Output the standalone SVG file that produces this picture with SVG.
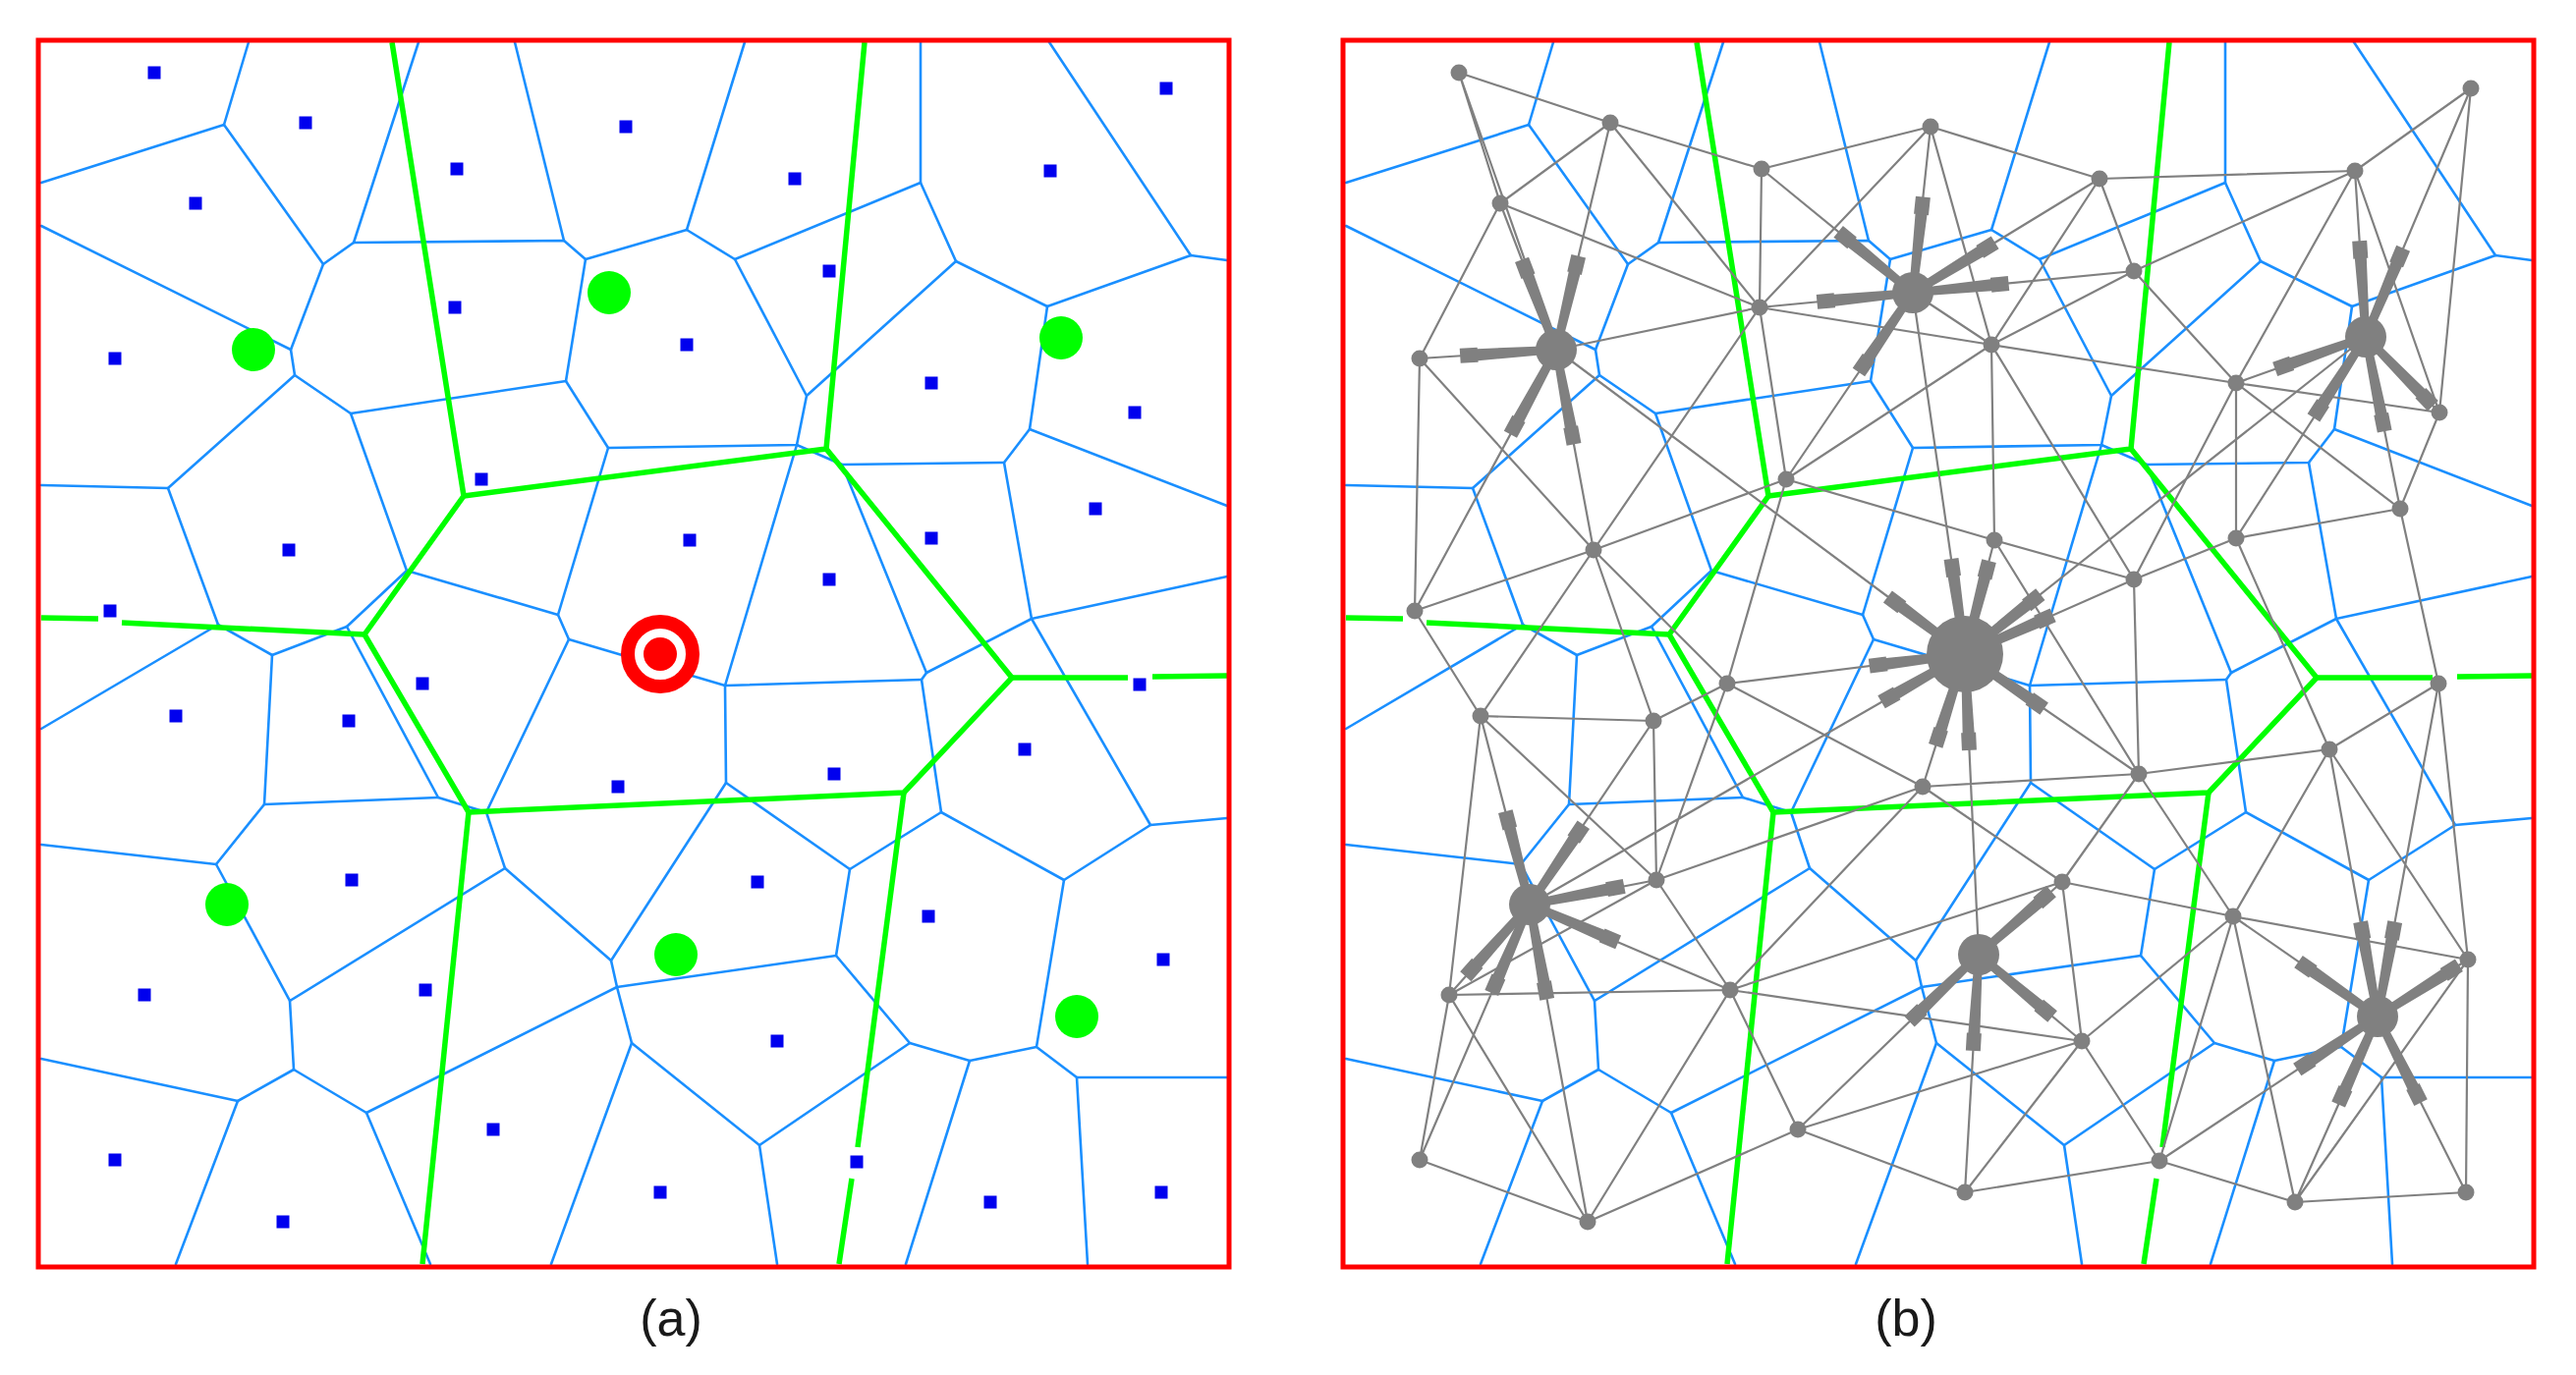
<svg xmlns="http://www.w3.org/2000/svg" width="2622" height="1400" viewBox="0 0 2622 1400">
<style>
.v{fill:none;stroke:#1a8fff;stroke-width:2.6;stroke-linejoin:round;stroke-linecap:round}
.g{fill:none;stroke:#00ff00;stroke-width:5.5;stroke-linejoin:round}
.e{fill:none;stroke:#808080;stroke-width:2.2}
.frame{fill:none;stroke:#ff0000;stroke-width:5}
.nd{fill:#808080}
.lbl{font-family:"Liberation Sans",Arial,sans-serif;font-size:52px;fill:#1a1a1a;text-anchor:middle}
</style>
<defs>
<rect id="sq" x="-6.5" y="-6.5" width="13" height="13" fill="#0000ee"/>
<path id="sp" d="M0,-4 L80,-6 L80,-7.5 L98,-7.5 L98,7.5 L80,7.5 L80,6 L0,4 Z" fill="#808080"/>
<g id="vor" class="v">
<path d="M253,43 L228,127 M426,43 L360,247 M524,43 L574,245 M758,43 L699,234 M937,43 L937,186 M1068,43 L1212,260 M42,230 L296,356 M42,494 L171,497 M42,742 L222,636 M42,860 L220,880 M42,1078 L242,1121 M242,1121 L179,1287 M373,1133 L438,1287 M643,1062 L561,1287 M773,1166 L791,1287 M987,1080 L922,1287 M1096,1097 L1107,1287 M1048,437 L1249,515 M1050,630 L1249,587 M1171,840 L1249,833 M1096,1097 L1249,1097"/>
<path d="M42,186 L228,127 L329,269 L360,247 L574,245 L596,264 L699,234 L748,264 L937,186 L973,266 L1066,312 L1212,260 L1249,265"/>
<path d="M329,269 L296,356 L300,382 L357,421 L576,388 L596,264"/>
<path d="M300,382 L171,497 L222,636 L277,667 L353,638 L414,581 L357,421"/>
<path d="M576,388 L619,456 L568,626 L414,581"/>
<path d="M619,456 L811,453 L821,403 L973,266 M821,403 L748,264"/>
<path d="M811,453 L857,473 L1022,471 L1048,437 L1066,312"/>
<path d="M1022,471 L1050,630 L943,685 L857,473"/>
<path d="M1050,630 L1171,840 L1083,896 L958,827 L938,692 L943,685"/>
<path d="M811,453 L738,698 L938,692"/>
<path d="M568,626 L579,651 L738,698"/>
<path d="M579,651 L495,827 L446,812 L353,638"/>
<path d="M277,667 L269,819 L446,812"/>
<path d="M269,819 L220,880 L295,1019 L514,884 L495,827"/>
<path d="M514,884 L622,978 L739,797 L738,698"/>
<path d="M739,797 L865,885 L958,827"/>
<path d="M865,885 L851,973 L926,1062 L987,1080 L1055,1066 L1096,1097 M1055,1066 L1083,896"/>
<path d="M295,1019 L299,1089 L242,1121"/>
<path d="M299,1089 L373,1133 L628,1005 L622,978"/>
<path d="M628,1005 L851,973"/>
<path d="M628,1005 L643,1062 L773,1166 L926,1062"/>
</g>
<g id="grn" class="g">
<path d="M399,43 L472,505 L841,457 L880,43"/>
<path d="M472,505 L371,646 L477,827 L920,807 L1030,690 L841,457"/>
<path d="M42,629 L100,630 M124,634 L371,646"/>
<path d="M477,827 L430,1287"/>
<path d="M1030,690 L1148,690 M1173,689 L1249,688"/>
<path d="M920,807 L873,1168 M867,1200 L854,1287"/>
</g>
</defs>
<rect x="0" y="0" width="2622" height="1400" fill="#ffffff"/>

<!-- Panel (a) -->
<g id="panel-a">
<use href="#vor"/>
<use href="#grn"/>
<g id="a-sites">
<use href="#sq" x="157" y="74"/><use href="#sq" x="311" y="125"/><use href="#sq" x="637" y="129"/><use href="#sq" x="465" y="172"/><use href="#sq" x="809" y="182"/><use href="#sq" x="1069" y="174"/><use href="#sq" x="1187" y="90"/><use href="#sq" x="199" y="207"/><use href="#sq" x="844" y="276"/><use href="#sq" x="463" y="313"/><use href="#sq" x="699" y="351"/><use href="#sq" x="117" y="365"/><use href="#sq" x="948" y="390"/><use href="#sq" x="1155" y="420"/><use href="#sq" x="490" y="488"/><use href="#sq" x="294" y="560"/><use href="#sq" x="702" y="550"/><use href="#sq" x="948" y="548"/><use href="#sq" x="1115" y="518"/><use href="#sq" x="844" y="590"/><use href="#sq" x="112" y="622"/><use href="#sq" x="430" y="696"/><use href="#sq" x="355" y="734"/><use href="#sq" x="179" y="729"/><use href="#sq" x="1160" y="697"/><use href="#sq" x="1043" y="763"/><use href="#sq" x="849" y="788"/><use href="#sq" x="629" y="801"/><use href="#sq" x="358" y="896"/><use href="#sq" x="771" y="898"/><use href="#sq" x="945" y="933"/><use href="#sq" x="1184" y="977"/><use href="#sq" x="433" y="1008"/><use href="#sq" x="147" y="1013"/><use href="#sq" x="791" y="1060"/><use href="#sq" x="502" y="1150"/><use href="#sq" x="872" y="1183"/><use href="#sq" x="117" y="1181"/><use href="#sq" x="288" y="1244"/><use href="#sq" x="672" y="1214"/><use href="#sq" x="1008" y="1224"/><use href="#sq" x="1182" y="1214"/>
</g>
<g id="a-green-sites" fill="#00ff00">
<circle cx="258" cy="356" r="22"/><circle cx="620" cy="298" r="22"/><circle cx="1080" cy="344" r="22"/><circle cx="231" cy="921" r="22"/><circle cx="688" cy="972" r="22"/><circle cx="1096" cy="1035" r="22"/>
</g>
<g id="a-target">
<circle cx="672" cy="666" r="33" fill="#ffffff" stroke="#ff0000" stroke-width="14"/>
<circle cx="672" cy="666" r="17" fill="#ff0000"/>
</g>
<rect class="frame" x="39" y="41" width="1212" height="1249"/>
</g>

<!-- Panel (b) -->
<g id="panel-b">
<use href="#vor" transform="translate(1328,0)"/>
<use href="#grn" transform="translate(1328,0)"/>
<g id="connectors">
<path class="e" d="M1485,74 L1639,125 M1485,74 L1527,207 M1485,74 L1584,356 M1639,125 L1527,207 M1639,125 L1793,172 M1639,125 L1791,313 M1639,125 L1584,356 M1527,207 L1445,365 M1527,207 L1791,313 M1527,207 L1584,356 M1445,365 L1584,356 M1445,365 L1440,622 M1445,365 L1622,560 M1584,356 L1622,560 M1584,356 L1440,622 M1584,356 L1791,313 M1793,172 L1791,313 M1793,172 L1965,129 M1793,172 L1947,298 M1791,313 L1947,298 M1791,313 L1965,129 M1965,129 L1947,298 M1791,313 L1818,488 M1791,313 L1622,560 M1818,488 L1947,298 M1818,488 L1622,560 M1622,560 L1440,622 M1818,488 L2030,550 M1965,129 L2137,182 M1965,129 L2027,351 M2137,182 L2397,174 M2137,182 L2172,276 M2137,182 L2027,351 M2137,182 L1947,298 M2397,174 L2515,90 M2397,174 L2172,276 M2397,174 L2276,390 M2397,174 L2408,343 M2397,174 L2483,420 M2515,90 L2483,420 M2515,90 L2408,343 M2172,276 L2027,351 M2172,276 L2276,390 M2172,276 L1947,298 M2027,351 L2276,390 M2027,351 L2030,550 M2027,351 L1947,298 M1791,313 L2027,351 M2027,351 L1818,488 M2276,390 L2483,420 M2276,390 L2276,548 M2276,390 L2408,343 M2276,390 L2443,518 M2483,420 L2443,518 M2483,420 L2408,343 M2276,548 L2443,518 M2276,548 L2408,343 M2276,548 L2172,590 M2030,550 L2172,590 M2027,351 L2172,590 M2276,390 L2172,590 M2443,518 L2482,696 M2443,518 L2408,343 M2276,548 L2371,763"/>
<path class="e" d="M1622,560 L1758,696 M1622,560 L1683,734 M1622,560 L1507,729 M1818,488 L1758,696 M1440,622 L1507,729 M1507,729 L1683,734 M1507,729 L1686,896 M1507,729 L1475,1013 M1507,729 L1557,921 M1683,734 L1758,696 M1683,734 L1686,896 M1683,734 L1557,921 M1758,696 L1686,896 M1758,696 L1957,801 M1758,696 L2000,666 M1686,896 L1761,1008 M1686,896 L1475,1013 M1686,896 L1957,801 M1686,896 L1557,921 M1475,1013 L1761,1008 M1475,1013 L1445,1181 M1475,1013 L1616,1244 M1475,1013 L1557,921 M1445,1181 L1616,1244 M1445,1181 L1557,921 M1616,1244 L1761,1008 M1616,1244 L1830,1150 M1616,1244 L1557,921 M1761,1008 L1830,1150 M1761,1008 L1957,801 M1761,1008 L2119,1060 M1761,1008 L2099,898 M1761,1008 L1557,921 M1830,1150 L2119,1060 M1830,1150 L2000,1214 M1830,1150 L2014,972 M1957,801 L2177,788 M1957,801 L2099,898 M1957,801 L2000,666 M2030,550 L2000,666 M2030,550 L2177,788 M2172,590 L2177,788 M2172,590 L2000,666 M2177,788 L2371,763 M2177,788 L2099,898 M2177,788 L2273,933 M2177,788 L2000,666 M2371,763 L2482,696 M2371,763 L2273,933 M2371,763 L2420,1035 M2371,763 L2512,977 M2482,696 L2512,977 M2482,696 L2420,1035 M2099,898 L2014,972 M2099,898 L2273,933 M2099,898 L2119,1060 M2273,933 L2512,977 M2273,933 L2420,1035 M2273,933 L2119,1060 M2273,933 L2198,1182 M2273,933 L2336,1224 M2512,977 L2510,1214 M2512,977 L2336,1224 M2512,977 L2420,1035 M2119,1060 L2198,1182 M2119,1060 L2000,1214 M2119,1060 L2014,972 M2198,1182 L2336,1224 M2198,1182 L2000,1214 M2198,1182 L2420,1035 M2336,1224 L2510,1214 M2336,1224 L2420,1035 M2510,1214 L2420,1035 M2000,1214 L2014,972 M1584,356 L2000,666 M1947,298 L2000,666 M2408,343 L2000,666 M1557,921 L2000,666 M2014,972 L2000,666"/>
<g id="spokes">
<use href="#sp" transform="translate(1584,356) rotate(-110.9)"/><use href="#sp" transform="translate(1584,356) rotate(-76.6)"/><use href="#sp" transform="translate(1584,356) rotate(176.3)"/><use href="#sp" transform="translate(1584,356) rotate(118.4)"/><use href="#sp" transform="translate(1584,356) rotate(79.4)"/>
<use href="#sp" transform="translate(1947,298) rotate(-140.7)"/><use href="#sp" transform="translate(1947,298) rotate(174.5)"/><use href="#sp" transform="translate(1947,298) rotate(-83.9)"/><use href="#sp" transform="translate(1947,298) rotate(124.2)"/><use href="#sp" transform="translate(1947,298) rotate(-5.6)"/><use href="#sp" transform="translate(1947,298) rotate(-31.4)"/>
<use href="#sp" transform="translate(2408,343) rotate(-93.7)"/><use href="#sp" transform="translate(2408,343) rotate(-67.1)"/><use href="#sp" transform="translate(2408,343) rotate(160.4)"/><use href="#sp" transform="translate(2408,343) rotate(122.8)"/><use href="#sp" transform="translate(2408,343) rotate(78.7)"/><use href="#sp" transform="translate(2408,343) rotate(45.7)"/>
<use href="#sp" transform="translate(2000,666) rotate(-143.3)"/><use href="#sp" transform="translate(2000,666) rotate(-98.2)"/><use href="#sp" transform="translate(2000,666) rotate(-75.5)"/><use href="#sp" transform="translate(2000,666) rotate(-38.4)"/><use href="#sp" transform="translate(2000,666) rotate(-23.8)"/><use href="#sp" transform="translate(2000,666) rotate(172.9)"/><use href="#sp" transform="translate(2000,666) rotate(150.1)"/><use href="#sp" transform="translate(2000,666) rotate(107.7)"/><use href="#sp" transform="translate(2000,666) rotate(87.4)"/><use href="#sp" transform="translate(2000,666) rotate(34.6)"/>
<use href="#sp" transform="translate(1557,921) rotate(-104.6)"/><use href="#sp" transform="translate(1557,921) rotate(-56)"/><use href="#sp" transform="translate(1557,921) rotate(-11)"/><use href="#sp" transform="translate(1557,921) rotate(23.1)"/><use href="#sp" transform="translate(1557,921) rotate(131.7)"/><use href="#sp" transform="translate(1557,921) rotate(113.3)"/><use href="#sp" transform="translate(1557,921) rotate(79.6)"/>
<use href="#sp" transform="translate(2014,972) rotate(-41)"/><use href="#sp" transform="translate(2014,972) rotate(136)"/><use href="#sp" transform="translate(2014,972) rotate(93.3)"/><use href="#sp" transform="translate(2014,972) rotate(40)"/>
<use href="#sp" transform="translate(2420,1035) rotate(-145.2)"/><use href="#sp" transform="translate(2420,1035) rotate(-100.2)"/><use href="#sp" transform="translate(2420,1035) rotate(-79.6)"/><use href="#sp" transform="translate(2420,1035) rotate(-32.2)"/><use href="#sp" transform="translate(2420,1035) rotate(146.5)"/><use href="#sp" transform="translate(2420,1035) rotate(114)"/><use href="#sp" transform="translate(2420,1035) rotate(63.3)"/>
</g>
</g>
<g id="b-nodes" class="nd">
<g id="n1"><circle cx="1485" cy="74" r="8.5"/></g>
<g id="n2"><circle cx="1639" cy="125" r="8.5"/></g>
<g id="n3"><circle cx="1965" cy="129" r="8.5"/></g>
<g id="n4"><circle cx="1793" cy="172" r="8.5"/></g>
<g id="n5"><circle cx="2137" cy="182" r="8.5"/></g>
<g id="n6"><circle cx="2397" cy="174" r="8.5"/></g>
<g id="n7"><circle cx="2515" cy="90" r="8.5"/></g>
<g id="n8"><circle cx="1527" cy="207" r="8.5"/></g>
<g id="n9"><circle cx="2172" cy="276" r="8.5"/></g>
<g id="n10"><circle cx="1791" cy="313" r="8.5"/></g>
<g id="n11"><circle cx="2027" cy="351" r="8.5"/></g>
<g id="n12"><circle cx="1445" cy="365" r="8.5"/></g>
<g id="n13"><circle cx="2276" cy="390" r="8.5"/></g>
<g id="n14"><circle cx="2483" cy="420" r="8.5"/></g>
<g id="n15"><circle cx="1818" cy="488" r="8.5"/></g>
<g id="n16"><circle cx="1622" cy="560" r="8.5"/></g>
<g id="n17"><circle cx="2030" cy="550" r="8.5"/></g>
<g id="n18"><circle cx="2276" cy="548" r="8.5"/></g>
<g id="n19"><circle cx="2443" cy="518" r="8.5"/></g>
<g id="n20"><circle cx="2172" cy="590" r="8.5"/></g>
<g id="n21"><circle cx="1440" cy="622" r="8.5"/></g>
<g id="n22"><circle cx="1758" cy="696" r="8.5"/></g>
<g id="n23"><circle cx="1683" cy="734" r="8.5"/></g>
<g id="n24"><circle cx="1507" cy="729" r="8.5"/></g>
<g id="n25"><circle cx="2482" cy="696" r="8.5"/></g>
<g id="n26"><circle cx="2371" cy="763" r="8.5"/></g>
<g id="n27"><circle cx="2177" cy="788" r="8.5"/></g>
<g id="n28"><circle cx="1957" cy="801" r="8.5"/></g>
<g id="n29"><circle cx="1686" cy="896" r="8.5"/></g>
<g id="n30"><circle cx="2099" cy="898" r="8.5"/></g>
<g id="n31"><circle cx="2273" cy="933" r="8.5"/></g>
<g id="n32"><circle cx="2512" cy="977" r="8.5"/></g>
<g id="n33"><circle cx="1761" cy="1008" r="8.5"/></g>
<g id="n34"><circle cx="1475" cy="1013" r="8.5"/></g>
<g id="n35"><circle cx="2119" cy="1060" r="8.5"/></g>
<g id="n36"><circle cx="1830" cy="1150" r="8.5"/></g>
<g id="n37"><circle cx="2198" cy="1182" r="8.5"/></g>
<g id="n38"><circle cx="1445" cy="1181" r="8.5"/></g>
<g id="n39"><circle cx="1616" cy="1244" r="8.5"/></g>
<g id="n40"><circle cx="2000" cy="1214" r="8.5"/></g>
<g id="n41"><circle cx="2336" cy="1224" r="8.5"/></g>
<g id="n42"><circle cx="2510" cy="1214" r="8.5"/></g>
<g id="B1"><circle cx="1584" cy="356" r="21"/></g>
<g id="B2"><circle cx="1947" cy="298" r="21"/></g>
<g id="B3"><circle cx="2408" cy="343" r="21"/></g>
<g id="B4"><circle cx="1557" cy="921" r="21"/></g>
<g id="B5"><circle cx="2014" cy="972" r="21"/></g>
<g id="B6"><circle cx="2420" cy="1035" r="21"/></g>
<g id="BT"><circle cx="2000" cy="666" r="39"/></g>
</g>
<rect class="frame" x="1367" y="41" width="1212" height="1249"/>
</g>

<text class="lbl" x="683" y="1360">(a)</text>
<text class="lbl" x="1940" y="1360">(b)</text>
</svg>
